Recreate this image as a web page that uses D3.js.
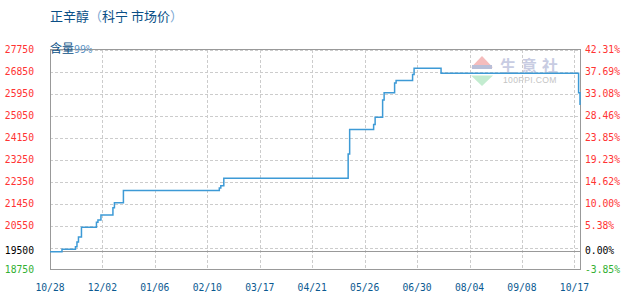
<!DOCTYPE html>
<html>
<head>
<meta charset="utf-8">
<script src="https://cdn.jsdelivr.net/npm/d3@7"></script>
<style>
  body { margin: 0; background: #fff; }
  svg { display: block; }
</style>
</head>
<body>
<svg id="chart" width="630" height="300"></svg>
<script>

// step points: date where a new price starts, price (yuan/t)
const priceDates = ['2022-10-28', '2022-11-05', '2022-11-14', '2022-11-15', '2022-11-16', '2022-11-18',
	'2022-11-28', '2022-11-29', '2022-12-01', '2022-12-09', '2022-12-10', '2022-12-16',
	'2023-02-18', '2023-02-19', '2023-02-21', '2023-05-15', '2023-05-16', '2023-06-01',
	'2023-06-02', '2023-06-07', '2023-06-08', '2023-06-15', '2023-06-16', '2023-06-27',
	'2023-06-28', '2023-07-16', '2023-10-20', '2023-10-21'];
const priceValues = [19500, 19600, 19700, 19900, 20100, 20500,
	20700, 20800, 21000, 21300, 21500, 22000,
	22100, 22200, 22500, 23500, 24500, 24700,
	25000, 25700, 26000, 26400, 26500, 26750,
	27000, 26800, 26000, 25500];

const xTickDates = ['2022-10-28', '2022-12-02', '2023-01-06', '2023-02-10', '2023-03-17', '2023-04-21',
	'2023-05-26', '2023-06-30', '2023-08-04', '2023-09-08', '2023-10-17'];
const xEndDate = '2023-10-21';

const basePrice = 19500;
const yTicks = [27750, 26850, 25950, 25050, 24150, 23250, 22350, 21450, 20550, 18750];
const yGrid = [27750, 26850, 25950, 25050, 24150, 23250, 22350, 21450, 20550, 19650];
const rightTickLabels = ['42.31%', '37.69%', '33.08%', '28.46%', '23.85%', '19.23%', '14.62%', '10.00%', '5.38%', '-3.85%'];

const titleMain = '正辛醇';
const titleSub = '科宁  市场价';
const noteMain = '含量';
const noteSub = '99%';

const svg = d3.select('#chart');
const plotLeft = 50, plotRight = 580, plotTop = 50, plotBottom = 270;
const tickStep = 52.44;

const parse = d3.timeParse('%Y-%m-%d');
const fmt = d3.timeFormat('%m/%d');

const data = priceDates.map((d, i) => ({ date: parse(d), value: priceValues[i] }));

// x axis ticks are evenly spaced, last tick is the latest date
const xDomain = xTickDates.map(parse).concat([parse(xEndDate)]);
const xRange = xTickDates.map((d, i) => plotLeft + i * tickStep).concat([plotRight]);
const x = d3.scaleTime().domain(xDomain).range(xRange);
const y = d3.scaleLinear().domain([18750, 27750]).range([plotBottom, plotTop]);

const numFont = '"DejaVu Sans Mono", monospace';
const cjkFont = '"Noto Sans CJK SC", "Noto Sans", sans-serif';

// watermark
const wm = svg.append('g');
wm.append('path')
	.attr('d', 'M471,67.5 L482,56 L493,67.5 Z')
	.attr('fill', '#f5bcbc');
wm.append('path')
	.attr('d', 'M471,75.5 L482,86 L493,75.5 Z')
	.attr('fill', '#c3ecd0');
wm.append('rect')
	.attr('x', 472).attr('y', 65).attr('width', 20).attr('height', 4)
	.attr('fill', '#b9bfd8');
wm.append('text')
	.attr('x', 500).attr('y', 71.5)
	.attr('font-family', cjkFont)
	.attr('font-size', 16)
	.attr('font-weight', 'bold')
	.attr('letter-spacing', 5)
	.attr('fill', '#c8cce2')
	.text('生意社');
wm.append('text')
	.attr('x', 503).attr('y', 83)
	.attr('font-family', '"Liberation Sans", Arial, sans-serif')
	.attr('font-size', 8.6)
	.attr('letter-spacing', 0.3)
	.attr('fill', '#c4c4c4')
	.text('100PPI.COM');

// grid
svg.append('g')
	.selectAll('line')
	.data(yGrid)
	.join('line')
	.attr('x1', plotLeft).attr('x2', plotRight)
	.attr('y1', d => Math.round(y(d)) + 0.5).attr('y2', d => Math.round(y(d)) + 0.5)
	.attr('stroke', '#cccccc')
	.attr('stroke-dasharray', '3,2');

svg.append('g')
	.selectAll('line')
	.data(xDomain.slice(1, xTickDates.length))
	.join('line')
	.attr('x1', d => Math.round(x(d)) + 0.5).attr('x2', d => Math.round(x(d)) + 0.5)
	.attr('y1', plotTop).attr('y2', plotBottom)
	.attr('stroke', '#cccccc')
	.attr('stroke-dasharray', '3,2');

// frame
svg.append('rect')
	.attr('x', plotLeft + 0.5).attr('y', plotTop - 0.5)
	.attr('width', plotRight - plotLeft).attr('height', plotBottom - plotTop)
	.attr('fill', 'none')
	.attr('stroke', '#999999');

// base price line
svg.append('line')
	.attr('x1', plotLeft).attr('x2', plotRight)
	.attr('y1', Math.round(y(basePrice)) - 0.5).attr('y2', Math.round(y(basePrice)) - 0.5)
	.attr('stroke', '#999999');

// price line
const line = d3.line()
	.x(d => x(d.date))
	.y(d => y(d.value))
	.curve(d3.curveStepAfter);

svg.append('path')
	.datum(data)
	.attr('d', line)
	.attr('fill', 'none')
	.attr('stroke', '#3d9ad6')
	.attr('stroke-width', 1.5);

// left axis labels
const yColor = d => d < basePrice ? '#33b033' : '#ff3333';
svg.append('g')
	.selectAll('text')
	.data(yTicks)
	.join('text')
	.attr('x', 34).attr('y', d => y(d) + 2.5)
	.attr('text-anchor', 'end')
	.attr('font-family', numFont)
	.attr('font-size', 9.7)
	.attr('fill', yColor)
	.text(d => d);
svg.append('text')
	.attr('x', 34).attr('y', y(basePrice) + 2.5)
	.attr('text-anchor', 'end')
	.attr('font-family', numFont)
	.attr('font-size', 9.7)
	.attr('fill', '#000')
	.text(basePrice);

// right axis labels
svg.append('g')
	.selectAll('text')
	.data(yTicks)
	.join('text')
	.attr('x', 585).attr('y', d => y(d) + 2.5)
	.attr('font-family', numFont)
	.attr('font-size', 9.7)
	.attr('fill', yColor)
	.text((d, i) => rightTickLabels[i]);
svg.append('text')
	.attr('x', 585).attr('y', y(basePrice) + 2.5)
	.attr('font-family', numFont)
	.attr('font-size', 9.7)
	.attr('fill', '#000')
	.text('0.00%');

// x axis labels
svg.append('g')
	.selectAll('text')
	.data(xTickDates.map(parse))
	.join('text')
	.attr('x', d => x(d)).attr('y', 291)
	.attr('text-anchor', 'middle')
	.attr('font-family', numFont)
	.attr('font-size', 9.7)
	.attr('fill', '#0b5a91')
	.text(d => fmt(d));

// title
const title = svg.append('text')
	.attr('x', 50).attr('y', 21)
	.attr('font-family', cjkFont)
	.attr('font-size', 13);
title.append('tspan').attr('fill', '#0a4f86').text(titleMain);
title.append('tspan').attr('fill', '#7aa6d2').text('（');
title.append('tspan').attr('fill', '#0a4f86').text(titleSub);
title.append('tspan').attr('fill', '#7aa6d2').text('）');

// content note
const note = svg.append('text')
	.attr('x', 50).attr('y', 53)
	.attr('font-family', cjkFont)
	.attr('font-size', 12);
note.append('tspan').attr('fill', '#0a4f86').text(noteMain);
note.append('tspan').attr('fill', '#5b93c4').attr('font-family', numFont).attr('font-size', 10).text(noteSub);

</script>
</body>
</html>
